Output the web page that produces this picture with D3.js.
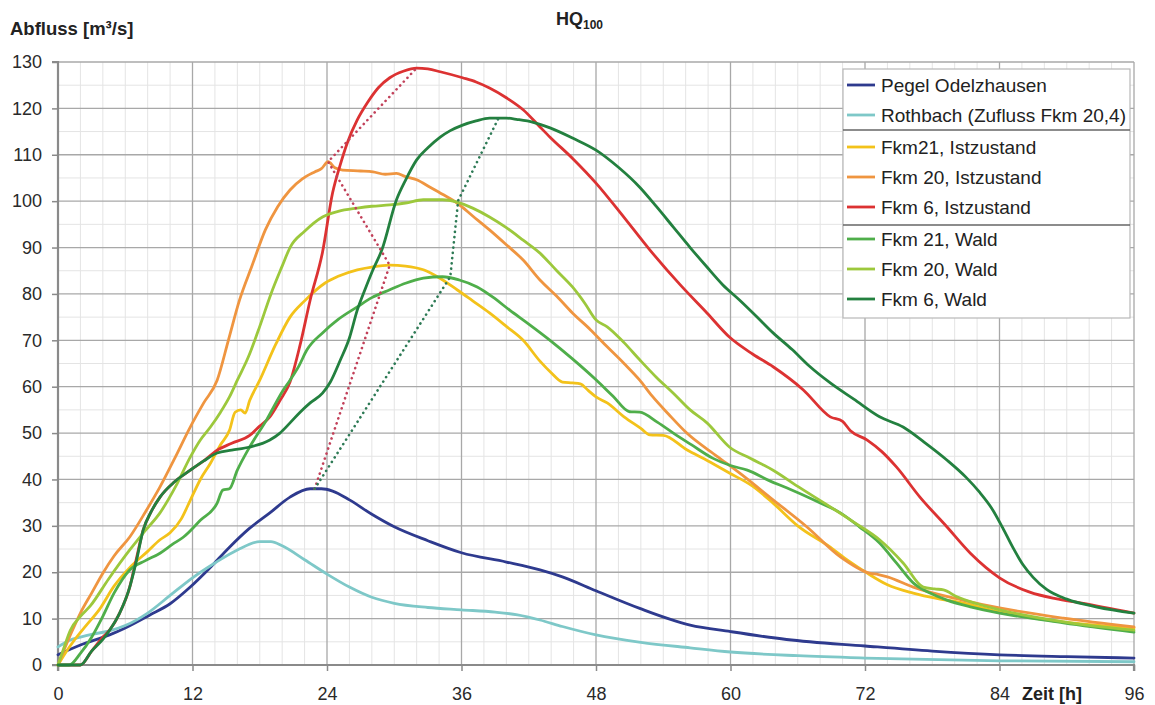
<!DOCTYPE html>
<html>
<head>
<meta charset="utf-8">
<script src="https://cdn.jsdelivr.net/npm/d3@7/dist/d3.min.js"></script>
<style>
  html, body { margin: 0; padding: 0; background: #fff; }
  svg { display: block; font-family: "Liberation Sans", Arial, sans-serif; }
</style>
</head>
<body>
<svg id="chart" width="1155" height="705"></svg>
<script>
// ---- DATA (time [h], discharge [m³/s]) ----
const xTicks = [0, 12, 24, 36, 48, 60, 72, 84, 96];
const yTicks = [0, 10, 20, 30, 40, 50, 60, 70, 80, 90, 100, 110, 120, 130];

const pegelOdelzhausen = [[0,2.2],[2,4.3],[4.6,6.5],[6,8],[8.2,10.8],[10,13.2],[11.8,16.8],[13.5,20.8],[15.3,25.4],[17,29.3],[18.9,32.8],[20.7,36.2],[22.5,38],[23.5,38],[24.5,37.5],[26,35.6],[28,32.5],[30,29.8],[33,26.8],[36,24.2],[40,22.2],[43,20.5],[45,19],[48,16],[51.9,12.2],[56.4,8.6],[60,7.2],[65,5.5],[72,4.1],[78,3],[84,2.2],[90,1.8],[96,1.5]];

const rothbach = [[0,3.9],[1,5.3],[2,6],[3,6.6],[4.5,7.3],[6,8.5],[8,11.2],[10,15],[12,18.8],[14,22],[16,24.8],[18,26.6],[19,26.6],[20,25.7],[22,22.7],[24,19.6],[26,16.8],[28,14.6],[30,13.3],[33,12.4],[36,11.9],[39,11.4],[41,10.8],[43,9.7],[45,8.3],[48,6.5],[52,4.9],[56.4,3.7],[60,2.8],[66,2],[72,1.5],[84,0.9],[96,0.7]];

const fkm21Ist = [[0,0],[0.5,2],[1.5,5.5],[2.5,8.5],[3.7,12],[5,17],[6.4,21],[8,24.5],[9.1,27],[10,28.5],[11,31.5],[11.8,35.5],[12.7,40],[13.6,43.5],[14.5,47.5],[15.3,50.6],[15.8,54.5],[16.3,55],[16.7,54.3],[17.1,57],[18,61.4],[19.4,69],[20.7,75],[22,78.5],[23.8,82.3],[25,83.8],[26.7,85.2],[28,85.8],[29.6,86.2],[31,86],[32.6,85.2],[34,83.5],[35.6,80.9],[37,78.5],[38.5,75.9],[40,73],[41.5,70],[43,65.5],[44,63],[45,61],[45.9,60.8],[46.6,60.6],[47.3,59.2],[48,57.8],[49,56.5],[50.5,53.5],[52,51],[52.8,49.6],[54,49.5],[56.1,46.4],[58,44],[59.9,41.4],[62,38.5],[63.8,34.9],[66,30],[68.9,25.4],[70.5,22.5],[72.2,19.8],[74,17.3],[76.3,15.5],[78.5,14.3],[80.7,13.4],[84,11.4],[89.7,9.3],[96,8]];

const fkm20Ist = [[0,0],[0.5,3],[1.2,7],[2,11.2],[3,15.5],[4,19.8],[5,23.5],[6.4,27.6],[7.8,33],[9.1,38.4],[10.4,44.5],[11.8,51.3],[13,56.5],[14.2,61.4],[15.2,70],[16.2,78.7],[17.3,86],[18.5,93.8],[19.6,98.8],[20.7,102.4],[21.8,104.8],[22.9,106.3],[23.5,107],[24.1,108.5],[24.7,107.2],[25.4,106.7],[27,106.5],[28.1,106.3],[29.2,105.8],[30.2,106],[31,105.3],[32,104.6],[33.2,103],[34.3,101.5],[35.6,99.6],[37,96.8],[38.5,93.8],[40,90.6],[41.5,87.3],[43,83],[44.5,79.5],[45.9,75.9],[47.5,72.3],[49,68.6],[50.5,65],[51.9,61.4],[53,58],[54.5,54],[56.1,50],[58.8,45],[60.8,41.4],[63.8,35.6],[66.8,29.8],[69.8,23.3],[72.4,19.8],[73.2,19.5],[74,19],[76.3,16.8],[80.7,14],[84,12.3],[89.7,10.1],[96,8.2]];

const fkm6Ist = [[0,0],[2,0],[3,3],[4,6],[4.6,7.5],[5.5,11.2],[6.4,16.8],[7,23],[7.6,29.1],[8.3,33],[9.1,36.2],[10.4,39.5],[11.8,42],[13,44],[14.2,46.3],[15.5,47.8],[17.1,49.5],[18,51.5],[18.9,53.5],[19.8,57],[20.7,61],[21.6,69],[22.5,78.7],[23.6,89],[24.5,101.8],[25.2,108],[25.8,112.5],[26.7,117.5],[27.6,121.2],[28.6,124.5],[29.6,126.6],[30.8,128],[32,128.7],[33,128.5],[34.1,127.9],[36.1,126.6],[37.3,125.7],[38.5,124.4],[40,122.3],[41.5,119.7],[43,116],[43.9,113.8],[46,109],[48,103.9],[50.5,96.5],[52.8,89.5],[55.5,82],[57.9,75.9],[59.9,70.7],[62,67],[63.8,64.3],[66.5,59.3],[68.9,53.5],[70,52.5],[70.7,50.5],[72.2,48.5],[73.5,46],[74.8,42.7],[76.9,36.2],[79.3,29.8],[81.4,24.1],[82.8,21],[84,18.8],[86.7,15.7],[89,14.3],[91.2,13.4],[96,11.2]];

const fkm21Wald = [[0,0],[1,0],[2,2.5],[3,6],[4,10.5],[5,15.5],[6.4,20.5],[7.8,22.5],[9.1,24.1],[10.2,26],[11.2,27.6],[12.7,31.2],[14.2,34.9],[14.7,37.7],[15.3,38],[16,42],[17.1,47],[18.6,52.8],[20.1,59.3],[20.7,61.4],[21.5,64.5],[22.2,67.9],[23.6,71.6],[25,74.5],[26.7,77.2],[28,79.2],[29.6,80.9],[31,82.3],[32.6,83.4],[34.3,83.7],[35.8,83],[37.4,81.5],[38.8,79.3],[40.3,76.5],[42,73.5],[43.9,70],[45.9,66],[48,61.5],[49.5,58],[51,54.6],[51.9,54.5],[53.5,52.3],[54.9,50],[56.5,47.5],[58.4,44.6],[60,43],[61.5,42],[63.5,39.7],[65,38.2],[67.5,35.5],[69.8,32.8],[71.5,29.8],[73.3,26.3],[74.8,22],[76.3,17.7],[77.8,15.5],[79.3,14],[81.5,12.5],[84,11.2],[89.7,9.1],[96,7.1]];

const fkm20Wald = [[0,0],[0.5,3.5],[1.1,7.5],[2,10.5],[2.9,12.8],[4.5,18.5],[6.4,24.8],[7.8,29],[9.1,32.8],[10.5,38.5],[11.8,44.8],[12.7,48.5],[13.6,51.3],[14.5,54.5],[15.3,57.8],[16,61.4],[17,66.5],[18,73],[19,80],[20,86],[20.7,90],[22,93.5],[23.6,96.6],[25,97.8],[26.7,98.5],[28,98.9],[29.6,99.2],[31,99.6],[32.6,100.3],[34.3,100.3],[35.6,99.8],[37,98.5],[38.5,96.6],[40,94.3],[41.5,91.6],[43,88.8],[44.5,85],[45.9,81.5],[47,78],[48,74.4],[49,72.9],[50.5,69.5],[51.9,65.8],[53.4,62],[54.9,58.6],[56.4,55],[57.9,52.2],[59.9,47],[61.8,44.5],[63.8,42],[66,38.5],[68.9,34.1],[71,30.8],[73.3,27],[75.4,22],[77.2,16.8],[78.2,16.4],[79,16.2],[80.2,14.7],[82,13.2],[84,11.9],[89.7,9.3],[96,7.5]];

const fkm6Wald = [[0,0],[2,0],[3,3],[4,5.5],[4.6,7.5],[5.5,11.2],[6.4,16.8],[7,22.5],[7.6,29.1],[8.3,33],[9.1,36.2],[10.4,39.5],[11.8,42],[13,44],[14.2,45.7],[15.5,46.3],[17.1,47],[18.9,48.5],[19.8,50],[20.7,52.2],[21.6,54.5],[22.5,56.5],[23.6,58.6],[24.3,61],[25.2,65.8],[26,70.5],[26.7,76.5],[27.4,81],[28.1,85.2],[28.9,89.5],[30.2,100.3],[31,104.5],[32,108.9],[33,111.5],[34.1,113.8],[35,115.2],[36.1,116.4],[37.3,117.3],[38.5,117.9],[40,117.9],[41,117.6],[42.4,117],[43.9,115.8],[46,113.5],[48,111],[50,107.3],[51.9,103],[53.4,98.8],[54.9,94.4],[56.4,90],[57.9,85.8],[59.3,82],[60.8,78.7],[62.3,75.2],[63.8,71.6],[65.5,68],[67,64.5],[68.9,60.8],[71,57.3],[73.3,53.5],[75.4,51.3],[77.3,48],[79.3,44.2],[81,40.5],[82.2,37.3],[83.3,33.8],[84.3,29.5],[85.2,25.3],[86.1,21.6],[87,18.9],[88.2,16.3],[90,14.2],[92.7,12.5],[96,11.2]];

// peak translation (dotted)
const peakLinkIst = [[22.9,38],[29.6,86.2],[24.1,108.5],[32,128.7]];
const peakLinkWald = [[22.9,38],[35,83.7],[35.7,100.1],[39.3,117.9]];

const seriesNames = ["Pegel Odelzhausen","Rothbach (Zufluss Fkm 20,4)","Fkm21, Istzustand","Fkm 20, Istzustand","Fkm 6, Istzustand","Fkm 21, Wald","Fkm 20, Wald","Fkm 6, Wald"];
const seriesData = [pegelOdelzhausen, rothbach, fkm21Ist, fkm20Ist, fkm6Ist, fkm21Wald, fkm20Wald, fkm6Wald];
const seriesColors = ["#2e3a8e","#7ec8c8","#f3c21a","#ef9540","#dc3232","#4fae4a","#9cc83c","#23803f"];

// ---- CHART ----
const svg = d3.select("#chart");
const L = 58, R = 1134, T = 62, B = 665;
const x = d3.scaleLinear().domain([0, 96]).range([L, R]);
const y = d3.scaleLinear().domain([0, 130]).range([B, T]);

const grid = svg.append("g");
// minor grid
grid.selectAll(".vminor").data(d3.range(2, 96, 2).filter(d => d % 12 !== 0)).enter()
  .append("line").attr("x1", d => x(d)).attr("x2", d => x(d)).attr("y1", T).attr("y2", B)
  .attr("stroke", "#e4e4e4").attr("stroke-width", 1);
grid.selectAll(".hminor").data(d3.range(5, 130, 10)).enter()
  .append("line").attr("x1", L).attr("x2", R).attr("y1", d => y(d)).attr("y2", d => y(d))
  .attr("stroke", "#e4e4e4").attr("stroke-width", 1);
// major grid
grid.selectAll(".vmajor").data(xTicks.slice(1)).enter()
  .append("line").attr("x1", d => x(d)).attr("x2", d => x(d)).attr("y1", T).attr("y2", B)
  .attr("stroke", "#a8a8a8").attr("stroke-width", 1.3);
grid.selectAll(".hmajor").data(yTicks.slice(1)).enter()
  .append("line").attr("x1", L).attr("x2", R).attr("y1", d => y(d)).attr("y2", d => y(d))
  .attr("stroke", "#a8a8a8").attr("stroke-width", 1.3);

// axes
const yAxis = d3.axisLeft(y).tickValues(yTicks).tickSize(6).tickPadding(10);
const xAxis = d3.axisBottom(x).tickValues(xTicks).tickSize(6).tickPadding(16);
const gy = svg.append("g").attr("transform", `translate(${L},0)`).call(yAxis);
const gx = svg.append("g").attr("transform", `translate(0,${B})`).call(xAxis);
[gx, gy].forEach(g => {
  g.select(".domain").attr("stroke", "#8a8a8a").attr("stroke-width", 2.2);
  g.selectAll(".tick line").attr("stroke", "#8a8a8a").attr("stroke-width", 1.5);
  g.selectAll(".tick text").attr("fill", "#2a2a2a").style("font-size", "18px")
    .style("font-family", "Liberation Sans, Arial, sans-serif");
});
gy.select(".domain").attr("d", `M-6,${T}H0V${B}H-6`);
gx.select(".domain").attr("d", `M${L},6V0H${R}V6`);

// lines
const line = d3.line().x(d => x(d[0])).y(d => y(d[1])).curve(d3.curveMonotoneX);
const lines = svg.append("g").attr("fill", "none").attr("stroke-linejoin", "round").attr("stroke-linecap", "round");
seriesData.forEach((s, i) => {
  lines.append("path").datum(s).attr("d", line).attr("stroke", seriesColors[i]).attr("stroke-width", 2.8);
});

// dotted peak links
const dline = d3.line().x(d => x(d[0])).y(d => y(d[1]));
svg.append("path").datum(peakLinkIst).attr("d", dline).attr("fill", "none")
  .attr("stroke", "#c2415a").attr("stroke-width", 2.6).attr("stroke-dasharray", "0.1,5.2").attr("stroke-linecap", "round");
svg.append("path").datum(peakLinkWald).attr("d", dline).attr("fill", "none")
  .attr("stroke", "#2d7a55").attr("stroke-width", 2.6).attr("stroke-dasharray", "0.1,5.2").attr("stroke-linecap", "round");

// legend
const lg = svg.append("g");
lg.append("rect").attr("x", 843).attr("y", 69).attr("width", 287).attr("height", 249)
  .attr("fill", "#fff").attr("stroke", "#b8b8b8").attr("stroke-width", 1.2);
const rowY = [85, 115, 147, 177, 207, 239, 269, 299];
seriesNames.forEach((n, i) => {
  lg.append("line").attr("x1", 847).attr("x2", 875).attr("y1", rowY[i]).attr("y2", rowY[i])
    .attr("stroke", seriesColors[i]).attr("stroke-width", 2.8);
  lg.append("text").attr("x", 881).attr("y", rowY[i]).attr("dy", "0.35em")
    .style("font-size", "19px").attr("fill", "#222").text(n);
});
[130, 225].forEach(sy => lg.append("line").attr("x1", 843).attr("x2", 1130).attr("y1", sy).attr("y2", sy)
  .attr("stroke", "#666").attr("stroke-width", 1.5));

// titles
svg.append("text").attr("x", 10).attr("y", 35).style("font-size", "18.5px").style("font-weight", "bold")
  .attr("fill", "#222").text("Abfluss [m³/s]");
const t = svg.append("text").attr("x", 556).attr("y", 25).style("font-size", "18px").style("font-weight", "bold").attr("fill", "#222");
t.append("tspan").text("HQ");
t.append("tspan").attr("dy", 4).style("font-size", "12px").text("100");
svg.append("text").attr("x", 1022).attr("y", 700).style("font-size", "18px").style("font-weight", "bold")
  .attr("fill", "#222").text("Zeit [h]");
</script>
</body>
</html>
